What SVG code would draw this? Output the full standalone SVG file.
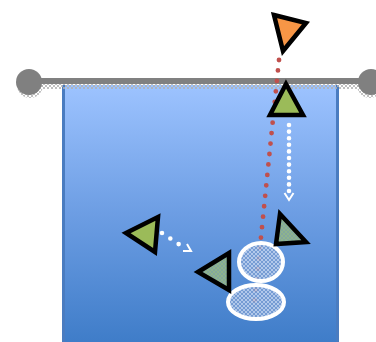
<svg xmlns="http://www.w3.org/2000/svg" width="376" height="342" viewBox="0 0 376 342">
<defs>
<linearGradient id="bg" x1="0" y1="0" x2="0" y2="1">
<stop offset="0" stop-color="#9dc3ff"/>
<stop offset="0.5" stop-color="#6c9de3"/>
<stop offset="1" stop-color="#3e7cc8"/>
</linearGradient>
<pattern id="hatch" width="4" height="4" patternUnits="userSpaceOnUse">
<rect width="4" height="4" fill="#bfd1ee"/>
<path d="M0 0L4 4M4 0L0 4" stroke="#6890cc" stroke-width="0.8"/>
</pattern>
<pattern id="ghatch" width="4" height="4" patternUnits="userSpaceOnUse">
<rect width="4" height="4" fill="#8fb48c"/>
<path d="M0 0L4 4M4 0L0 4" stroke="#7aa0a8" stroke-width="0.6"/>
</pattern>
<pattern id="shadow" width="4" height="4" patternUnits="userSpaceOnUse">
<path d="M0 0L4 4M4 0L0 4" stroke="#b0b0b0" stroke-width="0.8"/>
</pattern>
</defs>
<style>
.tri{stroke:#000;stroke-width:4.5;stroke-linejoin:miter}
.ell{stroke:#fff;stroke-width:4;fill:url(#hatch);fill-opacity:0.88}
.wdot{fill:none;stroke:#fff;stroke-width:4.6;stroke-linecap:round}
.rdot{fill:none;stroke:#c0504d;stroke-width:4.8;stroke-linecap:round;stroke-dasharray:0 10.5}
.chev{fill:none;stroke:#fff;stroke-width:2;stroke-linejoin:miter}
</style>
<g id="tank">
<rect x="62" y="85" width="277" height="260" fill="url(#bg)"/>
<line x1="63.5" y1="85" x2="63.5" y2="342" stroke="#4a7cc0" stroke-width="3"/>
<line x1="337.5" y1="85" x2="337.5" y2="342" stroke="#4a7cc0" stroke-width="3"/>
</g>
<g id="rail">
<rect x="20" y="84" width="356" height="5" fill="url(#shadow)"/>
<circle cx="30" cy="85" r="13" fill="url(#shadow)"/>
<circle cx="370" cy="85" r="13" fill="url(#shadow)"/>
<rect x="28" y="78" width="344" height="6" fill="#808080"/>
<circle cx="29" cy="82" r="13" fill="#808080"/>
<circle cx="371" cy="82" r="13" fill="#808080"/>
</g>
<g id="connectors">
<path d="M279 60L254 306" class="rdot"/>
<path d="M289 125L289 191" class="wdot" stroke-dasharray="0 6.6"/>
<path d="M284.5 193L289 200L293.5 193" class="chev"/>
<path d="M162 233L180 245" class="wdot" stroke-dasharray="0 10"/>
<path d="M183 251L191 251L187 244" class="chev"/>
</g>
<g id="ellipse-upper"><ellipse cx="261" cy="262" rx="22" ry="19" class="ell"/></g>
<g id="ellipse-lower"><ellipse cx="256" cy="302" rx="28" ry="17" class="ell"/></g>
<g id="tri-orange"><polygon points="274,15 306,23 283,51" fill="#f79646" class="tri"/></g>
<g id="tri-green-top"><polygon points="286,84 270,115 303,115" fill="#9bbb59" class="tri"/></g>
<g id="tri-green-left"><polygon points="126,233 158,217 155,252" fill="#9bbb59" class="tri"/></g>
<g id="tri-teal-left"><polygon points="198,272 229,253 229,290" fill="url(#ghatch)" class="tri"/></g>
<g id="tri-teal-right"><polygon points="280,214 306,242 276,244" fill="url(#ghatch)" class="tri"/></g>
</svg>
